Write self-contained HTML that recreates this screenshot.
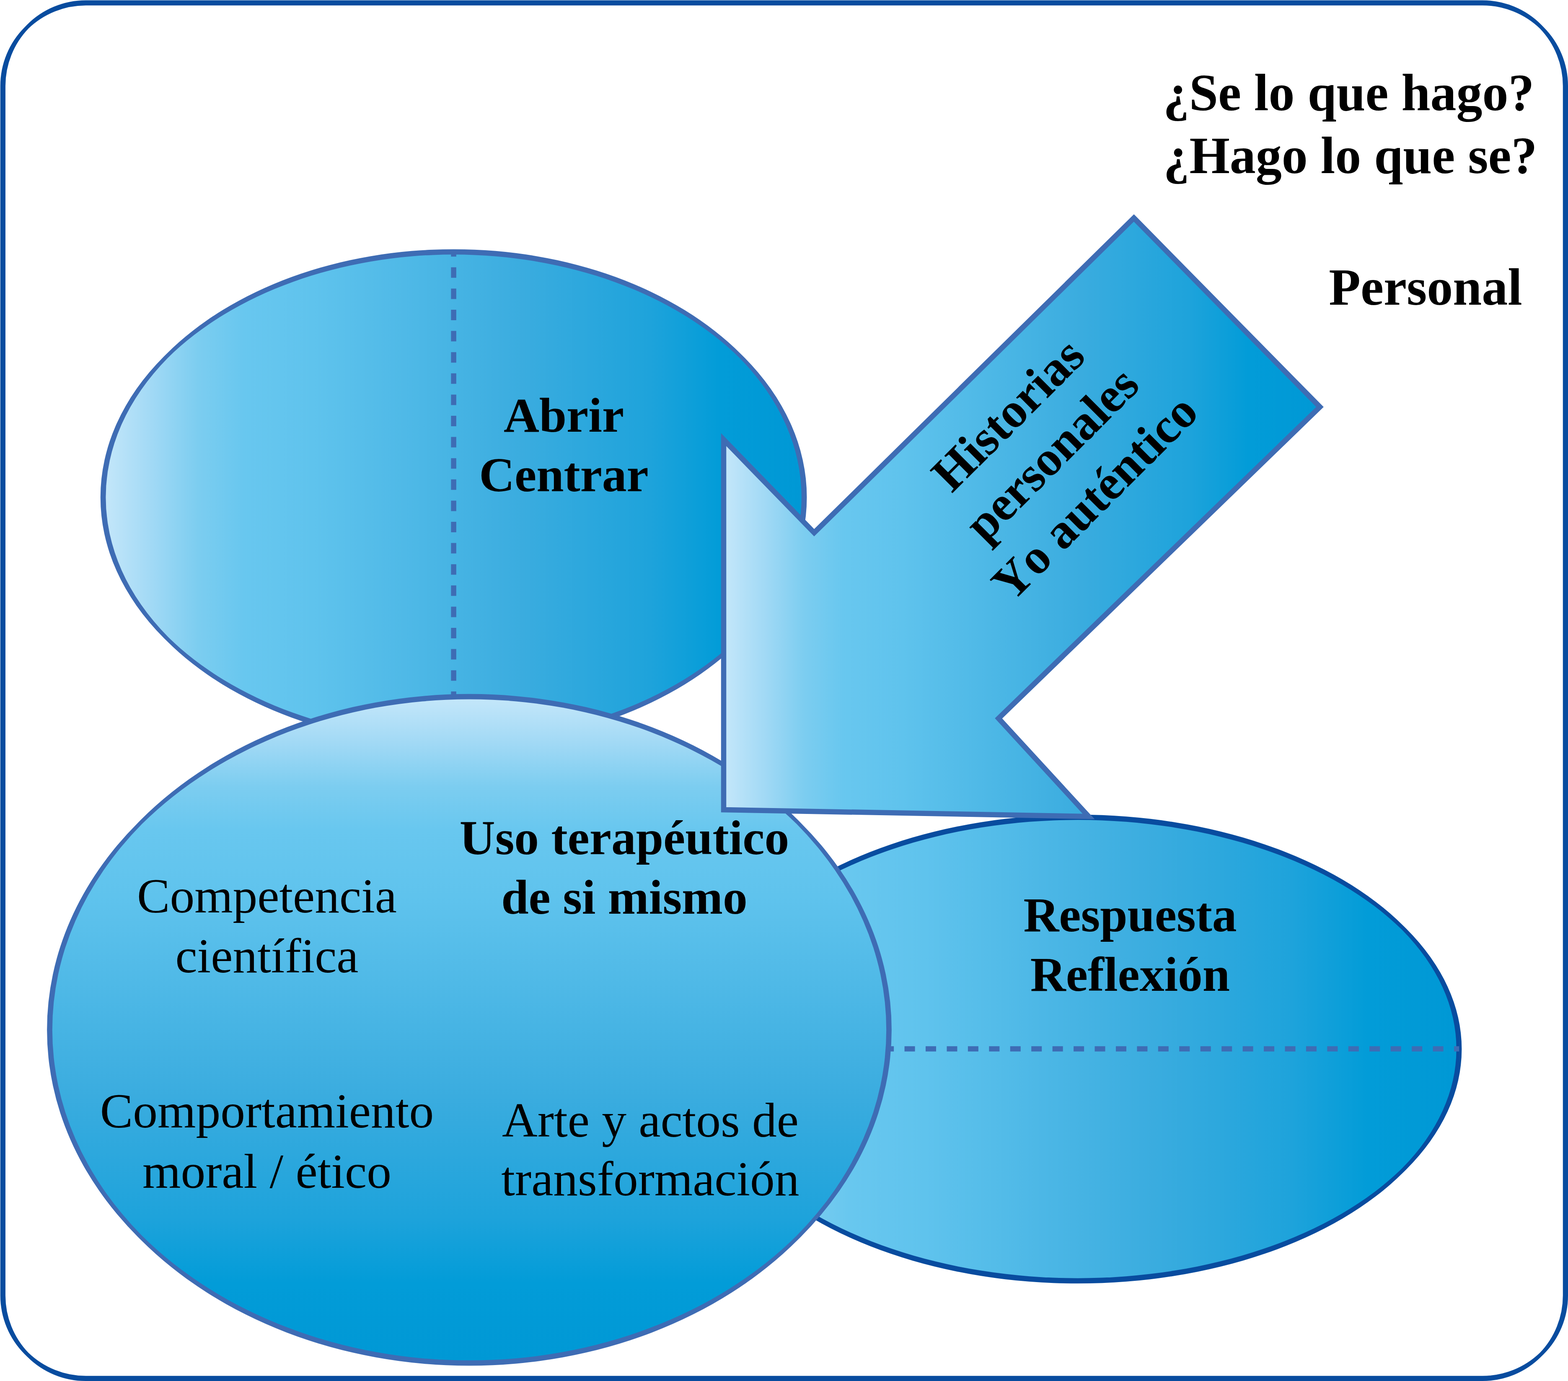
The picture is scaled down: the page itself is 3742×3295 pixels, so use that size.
<!DOCTYPE html>
<html lang="es">
<head>
<meta charset="utf-8">
<title>Uso terapéutico de si mismo</title>
<style>
html,body{margin:0;padding:0;background:#fff;}
body{width:3742px;height:3295px;overflow:hidden;}
svg{display:block;}
text{font-family:"Liberation Serif","DejaVu Serif",serif;fill:#000;font-kerning:none;}
.b{font-weight:bold;}
</style>
</head>
<body>
<svg xmlns="http://www.w3.org/2000/svg" width="3742" height="3295" viewBox="0 0 3742 3295">
<defs>
<linearGradient id="gh" x1="0" y1="0" x2="1" y2="0">
<stop offset="0" stop-color="#c5e7fa"/>
<stop offset="0.07" stop-color="#a1d9f5"/>
<stop offset="0.135" stop-color="#7ccdf0"/>
<stop offset="0.20" stop-color="#68c7ef"/>
<stop offset="0.30" stop-color="#5fc3ed"/>
<stop offset="0.60" stop-color="#3aacdf"/>
<stop offset="0.78" stop-color="#1ea3db"/>
<stop offset="0.88" stop-color="#029cd8"/>
<stop offset="1" stop-color="#0098d5"/>
</linearGradient>
<linearGradient id="g1" href="#gh" gradientUnits="userSpaceOnUse" x1="246.1" y1="0" x2="1919.1" y2="0"/>
<linearGradient id="g2" href="#gh" gradientUnits="userSpaceOnUse" x1="1662" y1="0" x2="3482" y2="0"/>
<linearGradient id="g3" href="#gh" gradientUnits="userSpaceOnUse" x1="0" y1="1662.2" x2="0" y2="3252.2"/>
</defs>
<rect x="0" y="0" width="3742" height="3295" fill="#fff"/>
<path id="frame" d="M204.9 0.8L3537.9 0.8A198 198 0 0 1 3677.91 58.79L3684.01 64.89A198 198 0 0 1 3742 204.9L3742 3090.9A198 198 0 0 1 3684.01 3230.91L3677.91 3237.01A198 198 0 0 1 3537.9 3295L204.9 3295A198 198 0 0 1 64.89 3237.01L58.79 3230.91A198 198 0 0 1 0.8 3090.9L0.8 204.9A198 198 0 0 1 58.79 64.89L64.89 58.79A198 198 0 0 1 204.9 0.8ZM204.9 13A198 198 0 0 0 67.98 67.98A198 198 0 0 0 13 204.9L13 3090.9A198 198 0 0 0 67.98 3227.82A198 198 0 0 0 204.9 3282.8L3537.9 3282.8A198 198 0 0 0 3674.82 3227.82A198 198 0 0 0 3729.8 3090.9L3729.8 204.9A198 198 0 0 0 3674.82 67.98A198 198 0 0 0 3537.9 13Z" fill="#084c9f" fill-rule="evenodd"/>
<g id="abrir-centrar">
<path d="M1774.26 850.76A836.5 585.5 0 0 1 1774.26 1522.24L1767.91 1528.59A836.5 585.5 0 0 1 397.29 1528.59L390.94 1522.24A836.5 585.5 0 0 1 390.94 850.76L397.29 844.41A836.5 585.5 0 0 1 1767.91 844.41Z" fill="#3e6cb4"/>
<path d="M1764.72 853.94A836.5 585.5 0 0 1 1764.72 1519.06A836.5 585.5 0 0 1 400.48 1519.06A836.5 585.5 0 0 1 400.48 853.94A836.5 585.5 0 0 1 1764.72 853.94Z" fill="url(#g1)"/>
<line x1="1082.6" y1="601" x2="1082.6" y2="1660" stroke="#3e6cb4" stroke-width="12.5" stroke-dasharray="25 25.6" stroke-dashoffset="13.8"/>
</g>
<g id="respuesta-reflexion">
<path d="M3356.02 2215.82A910 553 0 0 1 3356.02 2790.18L3349.67 2796.53A910 553 0 0 1 1794.33 2796.53L1787.98 2790.18A910 553 0 0 1 1787.98 2215.82L1794.33 2209.47A910 553 0 0 1 3349.67 2209.47Z" fill="#084c9f"/>
<path d="M3346.47 2219A910 553 0 0 1 3346.47 2787A910 553 0 0 1 1797.53 2787A910 553 0 0 1 1797.53 2219A910 553 0 0 1 3346.47 2219Z" fill="url(#g2)"/>
<line x1="2057.7" y1="2502.6" x2="3482.2" y2="2502.6" stroke="#3e6cb4" stroke-width="12.5" stroke-dasharray="25 25.44"/>
</g>
<g id="uso-terapeutico">
<path d="M1910.75 1962.92A1001.5 795 0 0 1 1910.75 2951.48L1904.4 2957.83A1001.5 795 0 0 1 335.6 2957.83L329.25 2951.48A1001.5 795 0 0 1 329.25 1962.92L335.6 1956.57A1001.5 795 0 0 1 1904.4 1956.57Z" fill="#3e6cb4"/>
<path d="M1901.22 1966.1A1001.5 795 0 0 1 1901.22 2948.3A1001.5 795 0 0 1 338.78 2948.3A1001.5 795 0 0 1 338.78 1966.1A1001.5 795 0 0 1 1901.22 1966.1Z" fill="url(#g3)"/>
</g>
<polygon id="arrow" points="2706,520 3150,971 2383,1714 2598,1948 1727,1932 1727,1049 1943,1271" fill="url(#gh)" stroke="#3e6cb4" stroke-width="12.5" stroke-linejoin="miter" stroke-miterlimit="10"/>
<g class="b" font-size="117.5" text-anchor="middle">
<text x="2776" y="262.7" font-size="124" text-anchor="start">¿Se lo que hago?</text>
<text x="2776.4" y="413" font-size="124" text-anchor="start">¿Hago lo que se?</text>
<text x="3402" y="727" font-size="124">Personal</text>
<text x="1345.5" y="1029.5">Abrir</text>
<text x="1345.5" y="1172.4">Centrar</text>
<text x="1490" y="2038.3">Uso terapéutico</text>
<text x="1490" y="2180">de si mismo</text>
<text x="2697" y="2221.8">Respuesta</text>
<text x="2697" y="2364">Reflexión</text>
<g transform="translate(2533.2,1116.8) rotate(-45)">
<text x="0" y="-141.5">Historias</text>
<text x="7" y="-1.5">personales</text>
<text x="6.5" y="144.2">Yo auténtico</text>
</g>
</g>
<g font-size="117.5" text-anchor="middle">
<text x="637" y="2177.2">Competencia</text>
<text x="637" y="2320.2">científica</text>
<text x="637" y="2690">Comportamiento</text>
<text x="637" y="2834">moral / ético</text>
<text x="1552" y="2711.8">Arte y actos de</text>
<text x="1552" y="2852">transformación</text>
</g>
</svg>
</body>
</html>
